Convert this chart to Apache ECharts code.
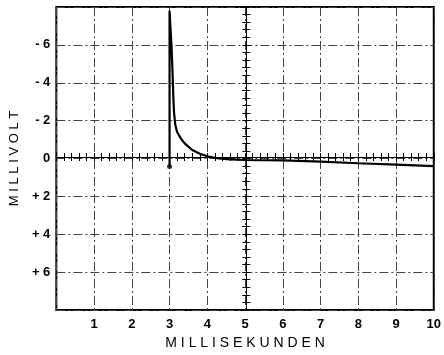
<!DOCTYPE html>
<html>
<head>
<meta charset="utf-8">
<script src="https://cdn.jsdelivr.net/npm/echarts@6/dist/echarts.min.js"></script>
<style>html,body{margin:0;padding:0;background:#fff;}#c{width:444px;height:355px;}</style>
</head>
<body>
<div id="c"></div>
<script>
// Data (time in ms, voltage in mV; positive values plotted downward)
const curveX = [3.0, 3.0, 3.02, 3.05, 3.08, 3.1, 3.12, 3.15, 3.2, 3.3, 3.4, 3.6, 3.8, 4.0, 4.3, 4.6, 5.0, 6.0, 7.0, 8.0, 9.0, 10.0];
const curveY = [0.42, -7.8, -7.0, -6.0, -4.5, -3.2, -2.4, -1.8, -1.4, -1.05, -0.8, -0.45, -0.25, -0.12, 0.0, 0.05, 0.08, 0.1, 0.17, 0.25, 0.32, 0.4];
const dotX = [3.0];
const dotY = [0.42];
const xTickValues = [1, 2, 3, 4, 5, 6, 7, 8, 9, 10];
const xTickLabels = ['1', '2', '3', '4', '5', '6', '7', '8', '9', '10'];
const yTickValues = [-6, -4, -2, 0, 2, 4, 6];
const yTickLabels = ['- 6', '- 4', '- 2', '0', '+ 2', '+ 4', '+ 6'];
const xName = 'M I L L I S E K U N D E N';
const yName = 'M I L L I V O L T';

const W = 444, H = 355;
const G = {left: 55, right: 9, top: 7, bottom: 42};
const gw = W - G.left - G.right, gh = H - G.top - G.bottom;
const font = 'Liberation Sans';

function lookup(vals, labels, v) {
  for (let i = 0; i < vals.length; i++) if (Math.abs(vals[i] - v) < 1e-6) return labels[i];
  return '';
}
const gridLine = {show: true, lineStyle: {color: '#444', width: 1, type: [9, 3, 2, 3]}};

const chart = echarts.init(document.getElementById('c'), null, {renderer: 'canvas'});
chart.setOption({
  animation: false,
  backgroundColor: '#fff',
  grid: {left: G.left, right: G.right, top: G.top, bottom: G.bottom, show: true, borderColor: '#000', borderWidth: 2, backgroundColor: 'transparent'},
  xAxis: [
    {type: 'value', min: 0, max: 10, interval: 1, position: 'bottom',
     axisLine: {show: false, onZero: false}, axisTick: {show: false},
     axisLabel: {color: '#000', fontFamily: font, fontSize: 13, fontWeight: 'bold', margin: 8,
                 formatter: v => lookup(xTickValues, xTickLabels, v)},
     splitLine: gridLine,
     name: xName, nameLocation: 'middle', nameGap: 26,
     nameTextStyle: {color: '#000', fontFamily: font, fontSize: 14}},
    {type: 'value', min: 0, max: 10, interval: 0.2, position: 'bottom', offset: -gh / 2,
     axisLine: {show: true, onZero: false, lineStyle: {color: '#000', width: 1}},
     axisTick: {show: true, inside: true, length: 4, lineStyle: {color: '#000', width: 1}},
     axisLabel: {show: false}, splitLine: {show: false}},
    {type: 'value', min: 0, max: 10, interval: 0.2, position: 'bottom', offset: -gh / 2,
     axisLine: {show: false, onZero: false},
     axisTick: {show: true, inside: false, length: 4, lineStyle: {color: '#000', width: 1}},
     axisLabel: {show: false}, splitLine: {show: false}}
  ],
  yAxis: [
    {type: 'value', min: -8, max: 8, interval: 2, inverse: true, position: 'left',
     axisLine: {show: false, onZero: false}, axisTick: {show: false},
     axisLabel: {color: '#000', fontFamily: font, fontSize: 13, fontWeight: 'bold', margin: 6,
                 formatter: v => lookup(yTickValues, yTickLabels, v)},
     splitLine: gridLine,
     name: yName, nameLocation: 'middle', nameGap: 33, nameRotate: 90,
     nameTextStyle: {color: '#000', fontFamily: font, fontSize: 13}},
    {type: 'value', min: -8, max: 8, interval: 0.4, inverse: true, position: 'left', offset: -gw / 2,
     axisLine: {show: true, onZero: false, lineStyle: {color: '#000', width: 1}},
     axisTick: {show: true, inside: true, length: 4, lineStyle: {color: '#000', width: 1}},
     axisLabel: {show: false}, splitLine: {show: false}},
    {type: 'value', min: -8, max: 8, interval: 0.4, inverse: true, position: 'left', offset: -gw / 2,
     axisLine: {show: false, onZero: false},
     axisTick: {show: true, inside: false, length: 4, lineStyle: {color: '#000', width: 1}},
     axisLabel: {show: false}, splitLine: {show: false}}
  ],
  series: [
    {type: 'line', xAxisIndex: 0, yAxisIndex: 0, data: curveX.map((x, i) => [x, curveY[i]]),
     showSymbol: false, smooth: false, clip: true,
     lineStyle: {color: '#000', width: 2.2}, z: 5},
    {type: 'scatter', xAxisIndex: 0, yAxisIndex: 0, data: dotX.map((x, i) => [x, dotY[i]]),
     symbol: 'circle', symbolSize: 5, itemStyle: {color: '#000'}, z: 6}
  ]
});
</script>
</body>
</html>
